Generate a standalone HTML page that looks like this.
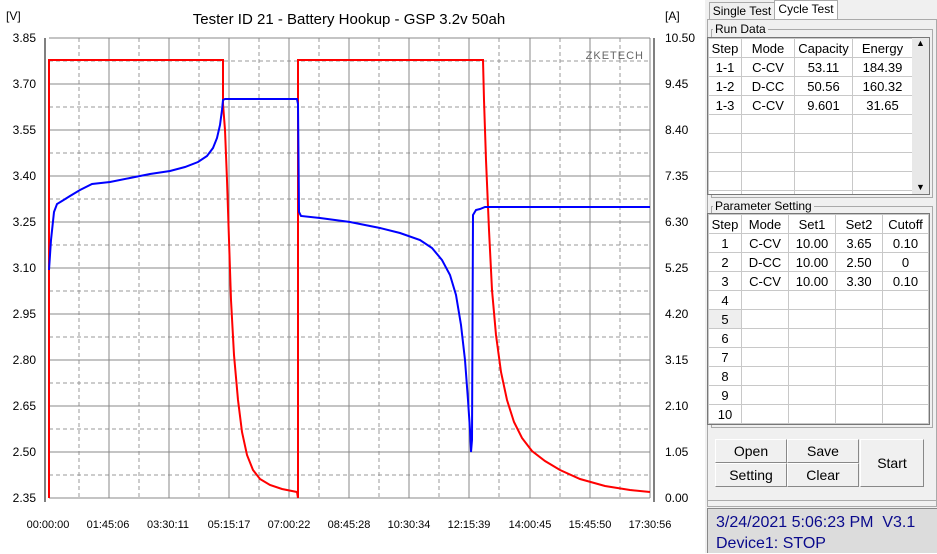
<!DOCTYPE html>
<html><head><style>
body{margin:0;width:937px;height:553px;overflow:hidden;background:#fff;font-family:"Liberation Sans",sans-serif;position:relative}
.p{position:absolute}
table{border-collapse:collapse;font-size:13px}
td{border:1px solid #c8c8c8;text-align:center;height:18px;padding:0;line-height:17px}
.btn{position:absolute;background:#f0f0f0;border:1px solid #fff;border-right-color:#888;border-bottom-color:#888;font-size:14px;text-align:center;box-sizing:border-box}
</style></head><body>
<svg class="p" style="left:0;top:0" width="705" height="553" font-family="Liberation Sans" font-size="12">
<rect width="705" height="553" fill="#fff"/>
<g stroke="#999" stroke-dasharray="4,3">
<line x1="49" x2="650" y1="61" y2="61"/><line x1="49" x2="650" y1="107" y2="107"/><line x1="49" x2="650" y1="153" y2="153"/><line x1="49" x2="650" y1="199" y2="199"/><line x1="49" x2="650" y1="245" y2="245"/><line x1="49" x2="650" y1="291" y2="291"/><line x1="49" x2="650" y1="337" y2="337"/><line x1="49" x2="650" y1="383" y2="383"/><line x1="49" x2="650" y1="429" y2="429"/><line x1="49" x2="650" y1="475" y2="475"/>
<line y1="38" y2="498" x1="79" x2="79"/><line y1="38" y2="498" x1="139" x2="139"/><line y1="38" y2="498" x1="199" x2="199"/><line y1="38" y2="498" x1="259" x2="259"/><line y1="38" y2="498" x1="319" x2="319"/><line y1="38" y2="498" x1="379" x2="379"/><line y1="38" y2="498" x1="439" x2="439"/><line y1="38" y2="498" x1="499" x2="499"/><line y1="38" y2="498" x1="560" x2="560"/><line y1="38" y2="498" x1="620" x2="620"/>
</g>
<g stroke="#888">
<line x1="49" x2="650" y1="38" y2="38"/><line x1="49" x2="650" y1="84" y2="84"/><line x1="49" x2="650" y1="130" y2="130"/><line x1="49" x2="650" y1="176" y2="176"/><line x1="49" x2="650" y1="222" y2="222"/><line x1="49" x2="650" y1="268" y2="268"/><line x1="49" x2="650" y1="314" y2="314"/><line x1="49" x2="650" y1="360" y2="360"/><line x1="49" x2="650" y1="406" y2="406"/><line x1="49" x2="650" y1="452" y2="452"/><line x1="49" x2="650" y1="498" y2="498"/>
<line y1="38" y2="498" x1="109" x2="109"/><line y1="38" y2="498" x1="169" x2="169"/><line y1="38" y2="498" x1="229" x2="229"/><line y1="38" y2="498" x1="289" x2="289"/><line y1="38" y2="498" x1="349" x2="349"/><line y1="38" y2="498" x1="409" x2="409"/><line y1="38" y2="498" x1="469" x2="469"/><line y1="38" y2="498" x1="530" x2="530"/><line y1="38" y2="498" x1="590" x2="590"/><line y1="38" y2="498" x1="650" x2="650"/>
</g>
<g stroke="#000"><line x1="45" x2="45" y1="38" y2="502"/><line x1="654" x2="654" y1="38" y2="502"/></g>
<text x="6" y="20">[V]</text><text x="665" y="20">[A]</text>
<text x="349" y="24" font-size="15" text-anchor="middle">Tester ID 21 - Battery Hookup - GSP 3.2v 50ah</text>
<text x="644" y="59" font-size="11" fill="#666" text-anchor="end" letter-spacing="1">ZKETECH</text>
<g text-anchor="end"><text x="36" y="42">3.85</text><text x="36" y="88">3.70</text><text x="36" y="134">3.55</text><text x="36" y="180">3.40</text><text x="36" y="226">3.25</text><text x="36" y="272">3.10</text><text x="36" y="318">2.95</text><text x="36" y="364">2.80</text><text x="36" y="410">2.65</text><text x="36" y="456">2.50</text><text x="36" y="502">2.35</text></g>
<g><text x="665" y="42">10.50</text><text x="665" y="88">9.45</text><text x="665" y="134">8.40</text><text x="665" y="180">7.35</text><text x="665" y="226">6.30</text><text x="665" y="272">5.25</text><text x="665" y="318">4.20</text><text x="665" y="364">3.15</text><text x="665" y="410">2.10</text><text x="665" y="456">1.05</text><text x="665" y="502">0.00</text></g>
<g text-anchor="middle" font-size="11"><text x="48" y="528">00:00:00</text><text x="108" y="528">01:45:06</text><text x="168" y="528">03:30:11</text><text x="229" y="528">05:15:17</text><text x="289" y="528">07:00:22</text><text x="349" y="528">08:45:28</text><text x="409" y="528">10:30:34</text><text x="469" y="528">12:15:39</text><text x="530" y="528">14:00:45</text><text x="590" y="528">15:45:50</text><text x="650" y="528">17:30:56</text></g>
<polyline fill="none" stroke="#f00" stroke-width="2" points="49,498 49,60 223,60 223,104 225,130 227,180 229,240 231,300 234,355 238,400 242,432 247,455 253,470 260,479 270,485 282,489 297,492 298,498 298,60 483,60 484,100 486,160 489,230 492,290 496,335 501,372 507,400 514,422 522,438 532,451 545,461 560,470 580,479 605,486 630,490 650,492"/>
<polyline fill="none" stroke="#00f" stroke-width="2" points="49,270 51,240 54,212 57,204 62,201 70,196 80,190 92,184 110,182 130,178 150,174 170,171 185,167 198,162 207,156 213,148 217,138 220,125 222,110 223,100 225,99 297,99 298,104 299,212 301,216 320,218 350,222 380,228 400,233 420,240 432,248 442,260 450,275 456,295 461,325 465,360 468,400 470,430 471,452 472,440 473,215 476,210 480,209 485,207 650,207"/>
</svg>
<div class="p" style="left:705px;top:0;width:232px;height:553px;background:#f0f0f0"></div>
<div class="p" style="left:709px;top:2px;width:64px;height:17px;border:1px solid #aaa;border-bottom:none;font-size:12px;text-align:center;line-height:17px">Single Test</div>
<div class="p" style="left:774px;top:0;width:62px;height:19px;border:1px solid #aaa;border-bottom:none;background:#fff;font-size:12px;text-align:center;line-height:17px">Cycle Test</div>
<div class="p" style="left:707px;top:19px;width:228px;height:480px;border:1px solid #aaa;border-top:1px solid #aaa"></div>
<div class="p" style="left:711px;top:29px;width:220px;height:167px;border:1px solid #aaa"></div>
<div class="p" style="left:713px;top:22px;background:#f0f0f0;font-size:12px;padding:0 2px">Run Data</div>
<div class="p" style="left:707px;top:37px;width:205px;height:156px;background:#fff;border:1px solid #777;overflow:hidden">
<table style="width:205px"><tr><td style="width:32px">Step</td><td style="width:52px">Mode</td><td style="width:57px">Capacity</td><td>Energy</td></tr>
<tr><td>1-1</td><td>C-CV</td><td>53.11</td><td>184.39</td></tr><tr><td>1-2</td><td>D-CC</td><td>50.56</td><td>160.32</td></tr><tr><td>1-3</td><td>C-CV</td><td>9.601</td><td>31.65</td></tr><tr><td></td><td></td><td></td><td></td></tr><tr><td></td><td></td><td></td><td></td></tr><tr><td></td><td></td><td></td><td></td></tr><tr><td></td><td></td><td></td><td></td></tr><tr><td></td><td></td><td></td><td></td></tr></table></div>
<div class="p" style="left:912px;top:37px;width:17px;height:156px;background:#e8e8e8;border:1px solid #777;border-left:none;font-size:9px;text-align:center">▲<div style="position:absolute;bottom:2px;width:17px">▼</div></div>
<div class="p" style="left:711px;top:206px;width:220px;height:220px;border:1px solid #aaa"></div>
<div class="p" style="left:713px;top:199px;background:#f0f0f0;font-size:12px;padding:0 2px">Parameter Setting</div>
<div class="p" style="left:707px;top:213px;width:221px;height:210px;background:#fff;border:1px solid #777;overflow:hidden">
<table style="width:221px"><tr><td style="width:32px">Step</td><td style="width:46px">Mode</td><td style="width:46px">Set1</td><td style="width:46px">Set2</td><td>Cutoff</td></tr>
<tr><td>1</td><td>C-CV</td><td>10.00</td><td>3.65</td><td>0.10</td></tr><tr><td>2</td><td>D-CC</td><td>10.00</td><td>2.50</td><td>0</td></tr><tr><td>3</td><td>C-CV</td><td>10.00</td><td>3.30</td><td>0.10</td></tr>
<tr><td>4</td><td></td><td></td><td></td><td></td></tr><tr><td style="background:#eee">5</td><td></td><td></td><td></td><td></td></tr><tr><td>6</td><td></td><td></td><td></td><td></td></tr><tr><td>7</td><td></td><td></td><td></td><td></td></tr><tr><td>8</td><td></td><td></td><td></td><td></td></tr><tr><td>9</td><td></td><td></td><td></td><td></td></tr><tr><td>10</td><td></td><td></td><td></td><td></td></tr></table></div>
<div class="btn" style="left:715px;top:439px;width:72px;height:24px;line-height:22px">Open</div>
<div class="btn" style="left:787px;top:439px;width:72px;height:24px;line-height:22px">Save</div>
<div class="btn" style="left:715px;top:463px;width:72px;height:24px;line-height:22px">Setting</div>
<div class="btn" style="left:787px;top:463px;width:72px;height:24px;line-height:22px">Clear</div>
<div class="btn" style="left:860px;top:439px;width:64px;height:48px;line-height:46px">Start</div>
<div class="p" style="left:707px;top:500px;width:228px;height:5px;border:1px solid #aaa"></div>
<div class="p" style="left:707px;top:508px;width:230px;height:45px;background:#dcdcdc;border-top:1px solid #888;border-left:1px solid #888;color:#0a0a8c;font-size:16px;line-height:21px;padding-left:8px;white-space:nowrap;box-sizing:border-box;padding-top:3px">3/24/2021 5:06:23 PM&nbsp; V3.1<br>Device1: STOP</div>
</body></html>
